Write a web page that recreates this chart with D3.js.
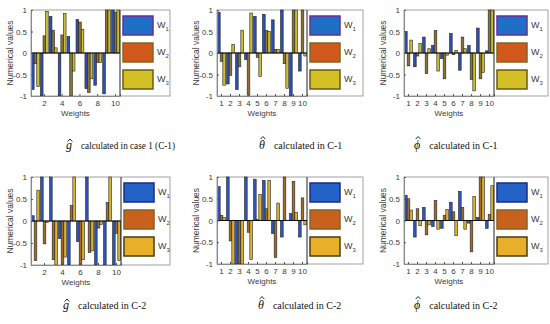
<!DOCTYPE html>
<html><head><meta charset="utf-8">
<script src="https://cdn.jsdelivr.net/npm/d3@7"></script>
<style>body{margin:0;background:#fff}svg{display:block}</style>
</head><body>
<svg id="c" width="550" height="324"></svg>
<script>
const categories = [1,2,3,4,5,6,7,8,9,10];
const seriesNames = ["W","W","W"];
const seriesSubs = ["1","2","3"];
const yTicks = [-1,-0.5,0,0.5,1];
const xTicksSparse = [2,4,6,8,10];
const xTicksFull = [1,2,3,4,5,6,7,8,9,10];

// g-hat, case C-1
const gC1_W1 = [-0.85,-1.0,0.85,-1.0,0.38,0.78,-0.83,-0.75,-0.95,1.0];
const gC1_W2 = [-0.25,0.4,0.53,0.42,-1.0,0.72,-0.92,-0.22,1.0,0.95];
const gC1_W3 = [-0.78,0.97,0.12,0.92,-0.42,0.55,-0.6,-0.22,1.0,1.0];
// theta-hat, C-1
const tC1_W1 = [0.95,-0.72,-0.85,-0.15,0.85,0.9,0.77,1.0,-1.0,-0.42];
const tC1_W2 = [-0.2,-0.52,-0.32,-0.98,-0.1,0.52,0.08,-0.25,1.0,1.0];
const tC1_W3 = [-0.75,0.2,0.53,0.93,-0.55,0.5,0.08,-0.82,1.0,-0.07];
// phi-hat, C-1
const pC1_W1 = [0.5,-0.32,0.37,0.18,-0.13,0.45,-0.4,0.17,0.58,0.05];
const pC1_W2 = [-0.3,-0.07,-0.48,0.52,-0.6,-0.04,0.37,-0.62,-0.6,1.0];
const pC1_W3 = [0.3,0.22,0.1,-0.42,-0.05,0.06,0.1,-0.88,-0.45,1.0];
// g-hat, C-2
const gC2_W1 = [0.12,1.0,1.0,-0.4,-1.0,-0.47,1.0,-1.0,-1.0,-1.0];
const gC2_W2 = [-0.9,-0.52,-0.88,-1.0,0.35,-1.0,-0.72,-0.16,0.42,-0.28];
const gC2_W3 = [0.7,-0.03,-1.0,-0.82,1.0,-0.88,-0.68,-0.08,1.0,-0.9];
// theta-hat, C-2
const tC2_W1 = [0.78,1.0,-1.0,1.0,0.95,0.92,-0.3,-0.38,0.16,-0.38];
const tC2_W2 = [0.12,-0.47,-1.0,-0.27,0.02,0.27,-0.85,1.0,0.9,0.52];
const tC2_W3 = [0.07,-1.0,-1.0,-0.9,0.6,0.92,0.4,0.0,0.19,-0.1];
// phi-hat, C-2
const pC2_W1 = [0.58,-0.38,0.3,-0.14,-0.18,0.42,0.67,-0.06,0.07,-0.18];
const pC2_W2 = [0.5,0.27,-0.33,0.46,0.12,0.2,0.3,-0.72,1.0,0.14];
const pC2_W3 = [0.24,-0.12,-0.1,-0.2,0.25,-0.35,-0.2,0.55,1.0,0.8];

const barColorsTop = ["#2c4fb4","#8c7430","#cbbd34"];
const barColorsBot = ["#2c55c2","#a06e2a","#dcb232"];
const legFillTop = ["#1f6fc6","#d2591e","#d2c024"];
const legStrokeTop = ["#6a2e9c","#7e6a1c","#6a5a14"];
const legFillBot = ["#2462c8","#c8601e","#e8b028"];
const legStrokeBot = ["#1c2c80","#8a6020","#4a3c10"];

const panels = [
 {x0:31,x1:120,xr:170,y0:10,y1:96,data:[gC1_W1,gC1_W2,gC1_W3],xt:xTicksSparse,top:true,sym:"g",cap:"calculated in case 1 (C-1)",capX:66,capY:149,tl:94},
 {x0:217,x1:307,xr:363,y0:10,y1:96,data:[tC1_W1,tC1_W2,tC1_W3],xt:xTicksFull,top:true,sym:"\u03B8",cap:"calculated in C-1",capX:259,capY:149},
 {x0:404,x1:494,xr:548,y0:10,y1:96,data:[pC1_W1,pC1_W2,pC1_W3],xt:xTicksFull,top:true,sym:"\u03D5",cap:"calculated in C-1",capX:414,capY:149},
 {x0:31,x1:121,xr:170,y0:177,y1:265,data:[gC2_W1,gC2_W2,gC2_W3],xt:xTicksSparse,top:false,sym:"g",cap:"calculated in C-2",capX:63,capY:309},
 {x0:217,x1:307,xr:363,y0:177,y1:264,data:[tC2_W1,tC2_W2,tC2_W3],xt:xTicksFull,top:false,sym:"\u03B8",cap:"calculated in C-2",capX:258,capY:309},
 {x0:404,x1:494,xr:548,y0:177,y1:264,data:[pC2_W1,pC2_W2,pC2_W3],xt:xTicksFull,top:false,sym:"\u03D5",cap:"calculated in C-2",capX:414,capY:309}
];

const svg = d3.select("#c");
const sans = "'Liberation Sans', Arial, sans-serif";
const serif = "'Liberation Serif', 'DejaVu Serif', serif";

panels.forEach(p => {
  const g = svg.append("g");
  const barC = p.top ? barColorsTop : barColorsBot;
  const legF = p.top ? legFillTop : legFillBot;
  const legS = p.top ? legStrokeTop : legStrokeBot;

  g.append("rect").attr("x",p.x0).attr("y",p.y0).attr("width",p.xr-p.x0).attr("height",p.y1-p.y0)
    .attr("fill","#fff").attr("stroke","#8a8a8a").attr("stroke-width",0.8);

  const y = d3.scaleLinear().domain([-1,1]).range([p.y1,p.y0]);
  const x = d3.scaleBand().domain(categories).range([p.x0,p.x1]).padding(0);
  const bw = x.bandwidth();
  const sub = d3.scaleBand().domain([0,1,2]).range([bw*0.06,bw*0.94]).padding(0);

  p.data.forEach((arr,s) => {
    g.selectAll(null).data(arr.map((v,i)=>({c:categories[i],v}))).enter().append("rect")
      .attr("x",d=>x(d.c)+sub(s))
      .attr("y",d=>Math.min(y(d.v),y(0)))
      .attr("width",sub.bandwidth())
      .attr("height",d=>Math.abs(y(d.v)-y(0)))
      .attr("fill",barC[s]).attr("stroke","#222").attr("stroke-width",0.6);
  });

  g.append("line").attr("x1",p.x0).attr("x2",p.x1).attr("y1",y(0)).attr("y2",y(0))
    .attr("stroke","#111").attr("stroke-width",1);

  const ax = g.append("g").attr("transform",`translate(${p.x0},0)`)
    .call(d3.axisLeft(y).tickValues(yTicks).tickSize(-2).tickPadding(4).tickFormat(d=>String(d)));
  ax.select(".domain").attr("stroke","#8a8a8a");
  ax.selectAll(".tick line").attr("stroke","#555");
  ax.selectAll("text").attr("font-family",sans).attr("font-size",8).attr("fill","#3a3a3a");

  const bx = g.append("g").attr("transform",`translate(0,${p.y1})`)
    .call(d3.axisBottom(x).tickValues(p.xt).tickSize(-2).tickPadding(4));
  bx.select(".domain").attr("stroke","#8a8a8a");
  bx.selectAll(".tick line").attr("stroke","#555");
  bx.selectAll("text").attr("font-family",sans).attr("font-size",8).attr("fill","#3a3a3a");

  g.append("text").attr("x",(p.x0+p.x1)/2).attr("y",p.y1+20).attr("text-anchor","middle")
    .attr("font-family",sans).attr("font-size",8).attr("fill","#3a3a3a").text("Weights");

  g.append("text").attr("transform",`translate(${p.x0-18},${(p.y0+p.y1)/2}) rotate(-90)`)
    .attr("text-anchor","middle").attr("font-family",sans).attr("font-size",8.5).attr("fill","#3a3a3a")
    .text("Numerical values");

  // legend
  g.append("line").attr("x1",p.x1).attr("x2",p.x1).attr("y1",p.y0).attr("y2",p.y1)
    .attr("stroke","#222").attr("stroke-width",1);
  seriesNames.forEach((nm,s) => {
    const ry = p.y0 + 6 + s*27;
    g.append("rect").attr("x",p.x1+3).attr("y",ry).attr("width",30).attr("height",19)
      .attr("fill",legF[s]).attr("stroke",legS[s]).attr("stroke-width",1.5);
    const t = g.append("text").attr("x",p.x1+37).attr("y",ry+12)
      .attr("font-family",sans).attr("font-size",9).attr("fill","#3a3a3a");
    t.append("tspan").text(nm);
    t.append("tspan").attr("dy",3).attr("font-size",6).text(seriesSubs[s]);
  });

  // caption: symbol with hat (drawn as path), then text
  const sym = svg.append("text").attr("x",p.capX).attr("y",p.capY)
    .attr("font-family",serif).attr("font-style","italic").attr("font-size",12).attr("fill","#111")
    .text(p.sym);
  const sw = sym.node().getComputedTextLength();
  const cx = p.capX + sw/2 + 1;
  const top = p.capY - (p.sym === "g" ? 10 : 12.5);
  svg.append("path").attr("d",`M${cx-2.4},${top+2.6}L${cx},${top}L${cx+2.4},${top+2.6}`)
    .attr("fill","none").attr("stroke","#111").attr("stroke-width",0.9);
  const c = svg.append("text").attr("x",p.capX + sw + 9).attr("y",p.capY)
    .attr("font-family",serif).attr("font-size",10).attr("fill","#111").text(p.cap);
  if (p.tl) c.attr("textLength",p.tl).attr("lengthAdjust","spacingAndGlyphs");
});
</script>
</body></html>
